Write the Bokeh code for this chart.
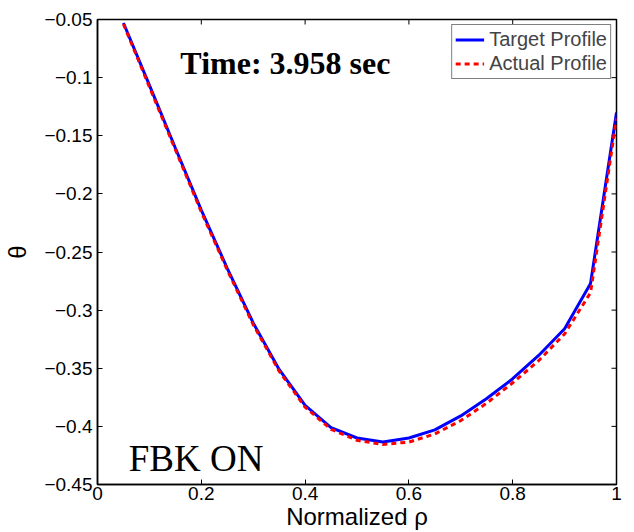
from bokeh.plotting import figure
from bokeh.models import Label, Legend, LegendItem, FixedTicker, Range1d
from bokeh.embed import file_html
from bokeh.resources import INLINE

# ---- data ----
rho = [0.05, 0.10, 0.15, 0.20, 0.25, 0.30, 0.35, 0.40, 0.45, 0.50,
       0.55, 0.60, 0.65, 0.70, 0.75, 0.80, 0.85, 0.90, 0.95, 1.00]
target = [-0.053, -0.1065, -0.1605, -0.214, -0.264, -0.311, -0.351, -0.382, -0.401, -0.410,
          -0.4135, -0.410, -0.403, -0.391, -0.376, -0.359, -0.339, -0.316, -0.277, -0.130]
actual = [-0.054, -0.108, -0.162, -0.2155, -0.2655, -0.3125, -0.3525, -0.3835, -0.4025, -0.412,
          -0.4155, -0.4135, -0.4065, -0.395, -0.380, -0.3625, -0.3435, -0.3205, -0.285, -0.135]
x_ticks = [0.0, 0.2, 0.4, 0.6, 0.8, 1.0]
x_tick_labels = ["0", "0.2", "0.4", "0.6", "0.8", "1"]
y_ticks = [-0.45, -0.40, -0.35, -0.30, -0.25, -0.20, -0.15, -0.10, -0.05]
y_tick_labels = ["\u22120.45", "\u22120.4", "\u22120.35", "\u22120.3", "\u22120.25",
                 "\u22120.2", "\u22120.15", "\u22120.1", "\u22120.05"]
series_names = ["Target Profile", "Actual Profile"]
title_text = "Time: 3.958 sec"
note_text = "FBK ON"

FONT = "Liberation Sans"
X0, X1 = 0.0, 1.0
Y0, Y1 = -0.45, -0.05
FRAME_W, FRAME_H = 519, 465
TICK_PX = 5

p = figure(width=634, height=532, x_range=Range1d(X0, X1), y_range=Range1d(Y0, Y1),
           output_backend="svg", toolbar_location=None,
           min_border_left=97, min_border_right=18, min_border_top=19, min_border_bottom=48)
p.grid.visible = False
p.outline_line_color = "black"
p.outline_line_width = 1.5
p.background_fill_color = "white"
p.border_fill_color = "white"

def style_axis(ax, ticks, labels):
    ax.ticker = FixedTicker(ticks=ticks)
    ax.major_label_overrides = {t: l for t, l in zip(ticks, labels)}
    ax.major_tick_in = TICK_PX
    ax.major_tick_out = 0
    ax.minor_tick_in = 0
    ax.minor_tick_out = 0
    ax.axis_line_color = "black"
    ax.axis_line_width = 1.5
    ax.major_tick_line_color = "black"
    ax.major_tick_line_width = 1
    ax.major_label_text_font = FONT
    ax.major_label_text_color = "black"
    ax.major_label_text_font_size = "19px"
    ax.axis_label_text_font = FONT
    ax.axis_label_text_font_size = "24px"
    ax.axis_label_text_font_style = "normal"
    ax.axis_label_text_color = "black"

style_axis(p.xaxis[0], x_ticks, x_tick_labels)
style_axis(p.yaxis[0], y_ticks, y_tick_labels)
p.xaxis[0].major_label_standoff = 2
p.yaxis[0].major_label_standoff = 5
p.xaxis[0].axis_label = "Normalized \u03c1"
p.yaxis[0].axis_label = "\u03b8"
p.xaxis[0].axis_label_standoff = 0
p.yaxis[0].axis_label_standoff = 10

# inward ticks on the top and right edges of the box
dy = TICK_PX * (Y1 - Y0) / FRAME_H
dx = TICK_PX * (X1 - X0) / FRAME_W
p.segment(x0=x_ticks, y0=[Y1] * len(x_ticks), x1=x_ticks, y1=[Y1 - dy] * len(x_ticks),
          line_color="black", line_width=1)
p.segment(x0=[X1] * len(y_ticks), y0=y_ticks, x1=[X1 - dx] * len(y_ticks), y1=y_ticks,
          line_color="black", line_width=1)

r1 = p.line(rho, target, line_color="#0000ff", line_width=3)
r2 = p.line(rho, actual, line_color="#ff0000", line_width=3, line_dash="5 4")

legend = Legend(items=[LegendItem(label=series_names[0], renderers=[r1]),
                       LegendItem(label=series_names[1], renderers=[r2])],
                location="top_right")
legend.border_line_color = "black"
legend.border_line_width = 1
legend.background_fill_color = "white"
legend.background_fill_alpha = 1
legend.margin = 5
legend.padding = 3
legend.spacing = 1
legend.label_text_font = FONT
legend.label_text_font_size = "20px"
legend.label_height = 21
legend.glyph_height = 21
legend.glyph_width = 29
legend.label_standoff = 5
p.add_layout(legend)

p.add_layout(Label(x=0.362, y=-0.087, text=title_text, text_align="center",
                   text_baseline="alphabetic", text_font="Liberation Serif",
                   text_font_style="bold", text_font_size="32px", text_color="black"))
p.add_layout(Label(x=0.0603, y=-0.428, text=note_text, text_align="left",
                   text_baseline="alphabetic", text_font="Liberation Serif",
                   text_font_size="37px", text_color="black"))

open("out.html", "w").write(file_html(p, INLINE))
